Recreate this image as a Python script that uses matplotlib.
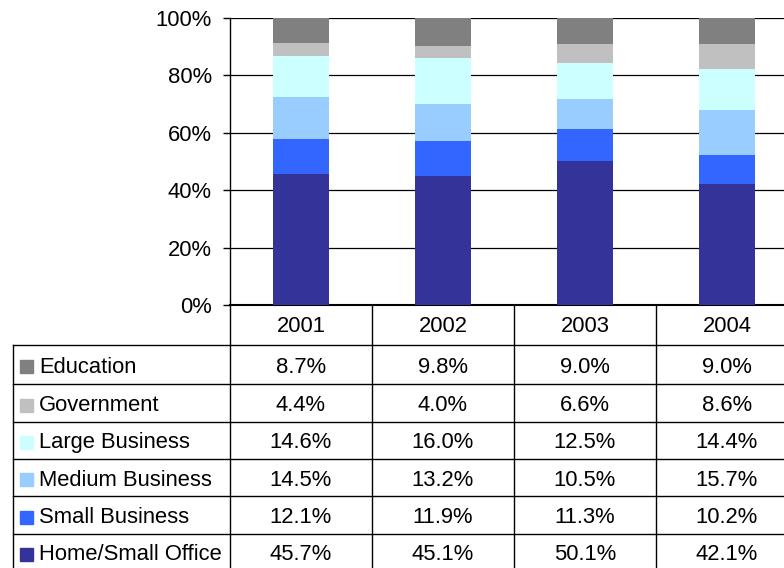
import numpy as np
import matplotlib
matplotlib.use('Agg')
from matplotlib import pyplot as plt
from matplotlib.patches import Rectangle

plt.rcParams['font.family'] = ['Liberation Sans', 'DejaVu Sans']

years = ['2001', '2002', '2003', '2004']
# bottom to top of the stack
segments = ['Home/Small Office', 'Small Business', 'Medium Business',
            'Large Business', 'Government', 'Education']
home_small_office = [45.7, 45.1, 50.1, 42.1]
small_business = [12.1, 11.9, 11.3, 10.2]
medium_business = [14.5, 13.2, 10.5, 15.7]
large_business = [14.6, 16.0, 12.5, 14.4]
government = [4.4, 4.0, 6.6, 8.6]
education = [8.7, 9.8, 9.0, 9.0]
colors = ['#333399', '#3366FF', '#99CCFF', '#CCFFFF', '#C0C0C0', '#808080']

series = [home_small_office, small_business, medium_business,
          large_business, government, education]

W, H = 784, 568
FS = 15.8
fig = plt.figure(figsize=(W / 100, H / 100), dpi=100)

# plot area in pixels: x 230..798 (runs off the right edge), y 18..305
px_left, px_right, px_top, px_bot = 230, 798, 18, 305
ax = fig.add_axes([px_left / W, 1 - px_bot / H,
                   (px_right - px_left) / W, (px_bot - px_top) / H])

x = np.arange(len(years))
bottom = np.zeros(len(years))
for vals, c in zip(series, colors):
    vals = np.array(vals)
    ax.bar(x, vals, 0.4, bottom=bottom, color=c, zorder=3)
    bottom += vals

ax.set_xlim(-0.5, len(years) - 0.5)
ax.set_ylim(0, 100)
ax.set_yticks(np.arange(0, 101, 20))
ax.set_yticklabels(['%d%%' % v for v in range(0, 101, 20)], fontsize=FS)
ax.set_xticks([])
ax.yaxis.grid(True, color='black', linewidth=0.9, zorder=0)
ax.tick_params(axis='y', length=5, width=1, pad=8, color='black')
for s in ['top', 'right']:
    ax.spines[s].set_visible(False)
ax.spines['left'].set_linewidth(1)
ax.spines['bottom'].set_linewidth(1.5)

# data table below, drawn in pixel coordinates
tab = fig.add_axes([0, 0, 1, 1], facecolor='none')
tab.set_xlim(0, W)
tab.set_ylim(H, 0)
tab.axis('off')

colw = (px_right - px_left) / len(years)
col_edges = [px_left + i * colw for i in range(len(years) + 1)]
row_edges = [345, 384.3, 421.7, 459, 496.3, 533.7, 571]
lw = 1.0

# header row
for xe in col_edges:
    tab.plot([xe, xe], [px_bot, H], color='black', lw=lw)
for i, yr in enumerate(years):
    tab.text(px_left + (i + 0.5) * colw, (px_bot + row_edges[0]) / 2 + 2, yr,
             ha='center', va='center', fontsize=FS)

tab.plot([13, 13], [row_edges[0], H], color='black', lw=lw)
for ye in row_edges[:-1]:
    tab.plot([13, W], [ye, ye], color='black', lw=lw)

# rows: top row is the top of the stack
for r, k in enumerate(range(len(segments) - 1, -1, -1)):
    yc = (row_edges[r] + row_edges[r + 1]) / 2
    tab.add_patch(Rectangle((20, yc - 4.5), 13, 13, color=colors[k]))
    tab.text(39, yc + 2.5, segments[k], ha='left', va='center', fontsize=FS)
    for i in range(len(years)):
        tab.text(px_left + (i + 0.5) * colw, yc + 2.5, '%.1f%%' % series[k][i],
                 ha='center', va='center', fontsize=FS)

fig.savefig('out.png', dpi=100)
